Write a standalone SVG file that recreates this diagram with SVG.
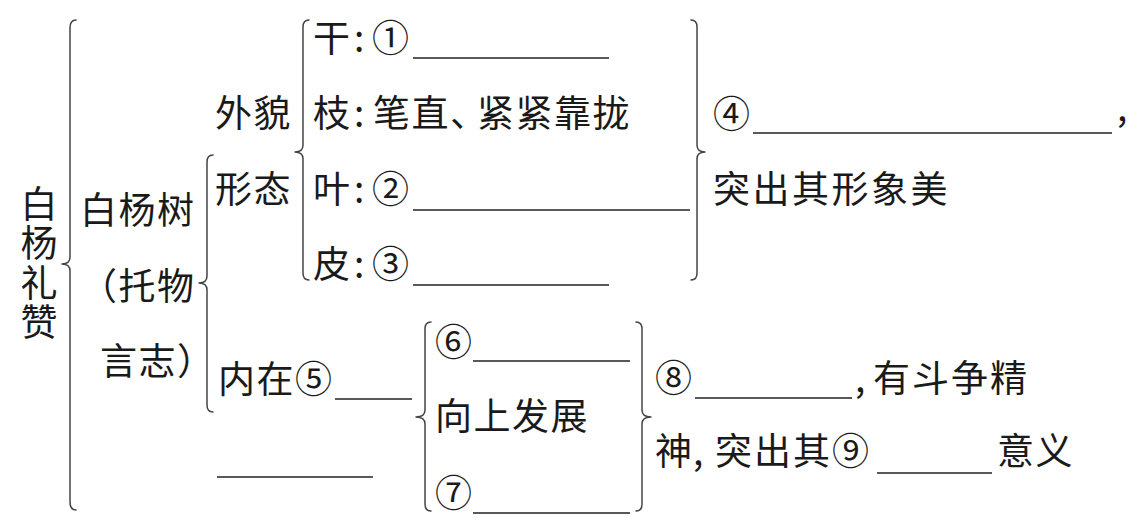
<svg xmlns="http://www.w3.org/2000/svg" width="1145" height="531" viewBox="0 0 1145 531">
<style>
.t{font-family:"Noto Sans CJK SC","Noto Sans CJK JP",sans-serif;font-size:37px;fill:#1a1a1a;letter-spacing:1.5px}
.n{letter-spacing:0}
.b{fill:none;stroke:#444;stroke-width:1.5;stroke-linecap:round;stroke-linejoin:round}
.u{stroke:#222;stroke-width:1.6}
</style>
<rect width="1145" height="531" fill="#fff"/>
<g id="connectors">
<path class="b" d="M76,20 Q70,20 70,28 L70,257 Q70,264 62,264 Q70,264 70,271 L70,502 Q70,510 76,510"/>
<path class="b" d="M213,155 Q207,155 207,162 L207,276 Q207,283 199,283 Q207,283 207,290 L207,405 Q207,412 213,412"/>
<path class="b" d="M309,20 Q303,20 303,27 L303,145 Q303,152 295,152 Q303,152 303,159 L303,273 Q303,280 309,280"/>
<path class="b" d="M691,20 Q697,20 697,27 L697,145 Q697,152 705,152 Q697,152 697,159 L697,273 Q697,280 691,280"/>
<path class="b" d="M431,322 Q425,322 425,329 L425,410 Q425,417 416,417 Q425,417 425,424 L425,504 Q425,511 431,511"/>
<path class="b" d="M636,322 Q642,322 642,329 L642,410 Q642,417 651,417 Q642,417 642,424 L642,504 Q642,511 636,511"/>
</g>
<g id="root">
<text class="t" x="39" y="185" style="writing-mode:vertical-rl;letter-spacing:2.5px">白杨礼赞</text>
</g>
<g id="tree">
<text class="t" x="80" y="224">白杨树</text>
<text class="t" x="80" y="300">（托物</text>
<text class="t" x="100" y="375">言志）</text>
</g>
<g id="appearance">
<text class="t" x="215" y="127">外貌</text>
<text class="t" x="215" y="203">形态</text>
</g>
<g id="trunk">
<text class="t n" y="52"><tspan x="313">干</tspan><tspan x="354">:</tspan><tspan x="372">①</tspan></text>
<line class="u" x1="413" y1="58" x2="609" y2="58"/>
</g>
<g id="branch">
<text class="t n" y="127"><tspan x="313">枝</tspan><tspan x="354">:</tspan><tspan x="373" style="letter-spacing:1.5px">笔直</tspan><tspan x="451">､</tspan><tspan x="477" style="letter-spacing:1.5px">紧紧靠拢</tspan></text>
</g>
<g id="leaf">
<text class="t n" y="203"><tspan x="313">叶</tspan><tspan x="354">:</tspan><tspan x="372">②</tspan></text>
<line class="u" x1="413" y1="210" x2="690" y2="210"/>
</g>
<g id="bark">
<text class="t n" y="278"><tspan x="313">皮</tspan><tspan x="354">:</tspan><tspan x="372">③</tspan></text>
<line class="u" x1="413" y1="285" x2="609" y2="285"/>
</g>
<g id="image-beauty">
<text class="t n" x="713" y="128">④</text>
<line class="u" x1="753" y1="133" x2="1112" y2="133"/>
<text class="t n" x="1117" y="121">,</text>
<text class="t" x="713" y="203" style="letter-spacing:2.5px">突出其形象美</text>
</g>
<g id="inner">
<text class="t" x="218" y="393">内在⑤</text>
<line class="u" x1="335" y1="399" x2="412" y2="399"/>
<line class="u" x1="217" y1="477" x2="373" y2="477"/>
</g>
<g id="growth">
<text class="t n" x="435" y="356">⑥</text>
<line class="u" x1="473" y1="361" x2="630" y2="361"/>
<text class="t" x="435" y="430">向上发展</text>
<text class="t n" x="435" y="507">⑦</text>
<line class="u" x1="473" y1="513" x2="630" y2="513"/>
</g>
<g id="meaning">
<text class="t n" y="392"><tspan x="655">⑧</tspan><tspan x="855">,</tspan><tspan x="873" style="letter-spacing:2px">有斗争精</tspan></text>
<line class="u" x1="695" y1="398" x2="852" y2="398"/>
<text class="t n" y="465"><tspan x="655">神</tspan><tspan x="693">,</tspan><tspan x="715" style="letter-spacing:2px">突出其⑨</tspan><tspan x="997" style="letter-spacing:1.5px">意义</tspan></text>
<line class="u" x1="877" y1="473" x2="992" y2="473"/>
</g>
</svg>
